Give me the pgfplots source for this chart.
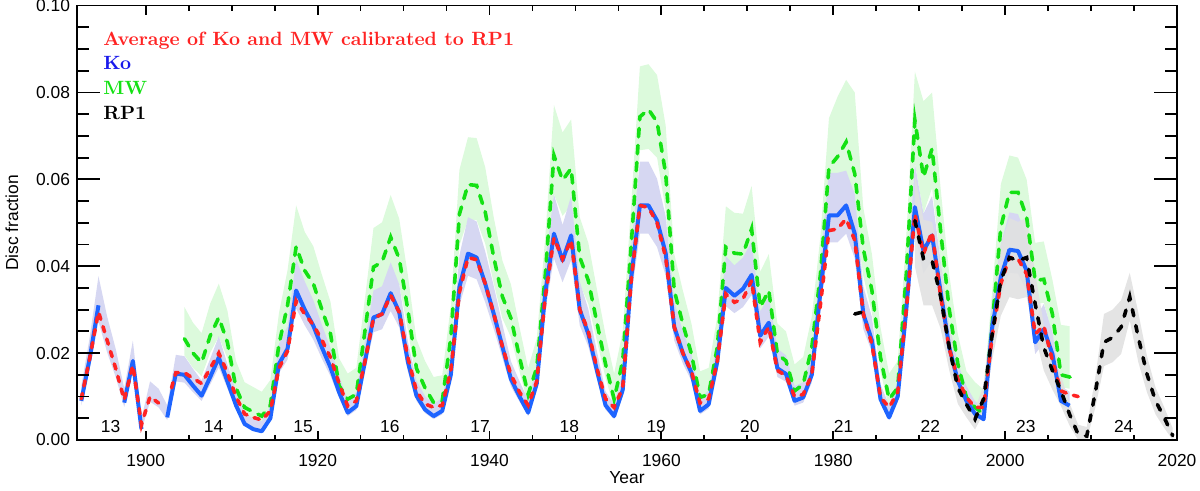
\documentclass[border=0pt]{standalone}
\usepackage{fontspec}
\setsansfont{Liberation Sans}
\usepackage{pgfplots}
\pgfplotsset{compat=1.18}
\usepackage{pgfplotstable}
\usepgfplotslibrary{fillbetween}

\definecolor{kol}{RGB}{30,100,255}
\definecolor{mwl}{RGB}{20,225,20}
\definecolor{avl}{RGB}{255,35,35}
\definecolor{mwb}{RGB}{220,250,220}
\definecolor{kob}{RGB}{214,215,242}
\definecolor{rpb}{RGB}{225,225,225}
\definecolor{txtblue}{RGB}{25,25,235}
\definecolor{txtgreen}{RGB}{20,225,20}

% Ko: year, value, band low, band high
\pgfplotstableread{
yr v lo hi
1892.5 0.0090 0.0079 0.0124
1893.5 0.0190 0.0167 0.0239
1894.5 0.0310 0.0273 0.0377
1895.5 nan 0.0202 0.0285
1896.5 nan 0.0145 0.0210
1897.5 0.0086 0.0076 0.0119
1898.5 0.0182 0.0160 0.0229
1899.5 0.0025 0.0022 0.0049
1900.5 nan 0.0088 0.0135
1901.5 nan 0.0075 0.0118
1902.5 0.0052 0.0046 0.0080
1903.5 0.0153 0.0135 0.0196
1904.5 0.0150 0.0132 0.0193
1905.5 0.0125 0.0110 0.0164
1906.5 0.0102 0.0090 0.0137
1907.5 0.0145 0.0128 0.0187
1908.5 0.0190 0.0167 0.0239
1909.5 0.0135 0.0119 0.0175
1910.5 0.0080 0.0070 0.0112
1911.5 0.0037 0.0033 0.0063
1912.5 0.0025 0.0022 0.0049
1913.5 0.0020 0.0018 0.0043
1914.5 0.0050 0.0044 0.0078
1915.5 0.0175 0.0154 0.0221
1916.5 0.0210 0.0185 0.0262
1917.5 0.0344 0.0303 0.0416
1918.5 0.0300 0.0264 0.0365
1919.5 0.0263 0.0231 0.0322
1920.5 0.0213 0.0187 0.0265
1921.5 0.0167 0.0147 0.0212
1922.5 0.0110 0.0097 0.0147
1923.5 0.0063 0.0055 0.0092
1924.5 0.0078 0.0069 0.0110
1925.5 0.0180 0.0158 0.0227
1926.5 0.0282 0.0248 0.0344
1927.5 0.0290 0.0255 0.0354
1928.5 0.0338 0.0297 0.0409
1929.5 0.0294 0.0259 0.0358
1930.5 0.0180 0.0158 0.0227
1931.5 0.0102 0.0090 0.0137
1932.5 0.0070 0.0062 0.0101
1933.5 0.0055 0.0048 0.0083
1934.5 0.0067 0.0059 0.0097
1935.5 0.0150 0.0132 0.0193
1936.5 0.0352 0.0310 0.0425
1937.5 0.0429 0.0378 0.0513
1938.5 0.0420 0.0370 0.0503
1939.5 0.0360 0.0317 0.0434
1940.5 0.0290 0.0255 0.0354
1941.5 0.0215 0.0189 0.0267
1942.5 0.0140 0.0123 0.0181
1943.5 0.0100 0.0088 0.0135
1944.5 0.0063 0.0055 0.0092
1945.5 0.0130 0.0114 0.0170
1946.5 0.0340 0.0299 0.0411
1947.5 0.0475 0.0418 0.0566
1948.5 0.0413 0.0363 0.0495
1949.5 0.0471 0.0414 0.0562
1950.5 0.0300 0.0264 0.0365
1951.5 0.0244 0.0215 0.0301
1952.5 0.0160 0.0141 0.0204
1953.5 0.0080 0.0070 0.0112
1954.5 0.0055 0.0048 0.0083
1955.5 0.0115 0.0101 0.0152
1956.5 0.0375 0.0330 0.0451
1957.5 0.0540 0.0475 0.0641
1958.5 0.0540 0.0475 0.0641
1959.5 0.0505 0.0444 0.0601
1960.5 0.0430 0.0378 0.0515
1961.5 0.0260 0.0229 0.0319
1962.5 0.0200 0.0176 0.0250
1963.5 0.0155 0.0136 0.0198
1964.5 0.0067 0.0059 0.0097
1965.5 0.0082 0.0072 0.0114
1966.5 0.0180 0.0158 0.0227
1967.5 0.0350 0.0308 0.0423
1968.5 0.0332 0.0292 0.0402
1969.5 0.0348 0.0306 0.0420
1970.5 0.0380 0.0334 0.0457
1971.5 0.0240 0.0211 0.0296
1972.5 0.0270 0.0238 0.0331
1973.5 0.0165 0.0145 0.0210
1974.5 0.0152 0.0134 0.0195
1975.5 0.0090 0.0079 0.0124
1976.5 0.0098 0.0086 0.0133
1977.5 0.0150 0.0132 0.0193
1978.5 0.0340 0.0299 0.0411
1979.5 0.0517 0.0455 0.0615
1980.5 0.0517 0.0455 0.0615
1981.5 0.0540 0.0475 0.0620
1982.5 0.0475 0.0418 0.0566
1983.5 0.0290 0.0255 0.0354
1984.5 0.0229 0.0202 0.0283
1985.5 0.0094 0.0083 0.0128
1986.5 0.0052 0.0046 0.0080
1987.5 0.0100 0.0088 0.0135
1988.5 0.0300 0.0264 0.0365
1989.5 0.0536 0.0472 0.0636
1990.5 0.0436 0.0384 0.0521
1991.5 0.0471 0.0414 0.0562
1992.5 0.0340 0.0299 0.0411
1993.5 0.0213 0.0187 0.0265
1994.5 0.0136 0.0120 0.0176
1995.5 0.0090 0.0079 0.0124
1996.5 0.0060 0.0053 0.0089
1997.5 0.0048 0.0042 0.0075
1998.5 0.0260 0.0229 0.0319
1999.5 0.0375 0.0330 0.0451
2000.5 0.0438 0.0385 0.0524
2001.5 0.0435 0.0383 0.0520
2002.5 0.0390 0.0343 0.0469
2003.5 0.0225 0.0198 0.0279
2004.5 0.0255 0.0224 0.0313
2005.5 0.0198 0.0174 0.0248
2006.5 0.0090 0.0079 0.0124
2007.5 0.0079 0.0070 0.0111
}\kotab

% MW
\pgfplotstableread{
yr v lo hi
1904.5 0.0233 0.0195 0.0306
1905.5 0.0200 0.0166 0.0270
1906.5 0.0178 0.0147 0.0246
1907.5 0.0240 0.0201 0.0314
1908.5 0.0282 0.0238 0.0360
1909.5 0.0225 0.0188 0.0298
1910.5 0.0120 0.0096 0.0182
1911.5 0.0075 0.0056 0.0133
1912.5 0.0065 0.0047 0.0122
1913.5 0.0055 0.0038 0.0111
1914.5 0.0080 0.0060 0.0138
1915.5 0.0220 0.0184 0.0292
1916.5 0.0310 0.0263 0.0391
1917.5 0.0445 0.0382 0.0540
1918.5 0.0390 0.0333 0.0479
1919.5 0.0360 0.0307 0.0446
1920.5 0.0300 0.0254 0.0380
1921.5 0.0244 0.0205 0.0318
1922.5 0.0125 0.0100 0.0188
1923.5 0.0094 0.0073 0.0153
1924.5 0.0105 0.0082 0.0166
1925.5 0.0250 0.0210 0.0325
1926.5 0.0398 0.0340 0.0488
1927.5 0.0410 0.0351 0.0501
1928.5 0.0467 0.0401 0.0564
1929.5 0.0417 0.0357 0.0509
1930.5 0.0300 0.0254 0.0380
1931.5 0.0165 0.0135 0.0232
1932.5 0.0120 0.0096 0.0182
1933.5 0.0086 0.0066 0.0145
1934.5 0.0090 0.0069 0.0149
1935.5 0.0236 0.0198 0.0310
1936.5 0.0520 0.0448 0.0622
1937.5 0.0588 0.0507 0.0697
1938.5 0.0586 0.0506 0.0695
1939.5 0.0525 0.0452 0.0628
1940.5 0.0420 0.0360 0.0512
1941.5 0.0330 0.0280 0.0413
1942.5 0.0280 0.0236 0.0358
1943.5 0.0190 0.0157 0.0259
1944.5 0.0105 0.0082 0.0166
1945.5 0.0167 0.0137 0.0234
1946.5 0.0382 0.0326 0.0470
1947.5 0.0655 0.0566 0.0771
1948.5 0.0598 0.0516 0.0708
1949.5 0.0625 0.0540 0.0738
1950.5 0.0421 0.0360 0.0513
1951.5 0.0367 0.0313 0.0454
1952.5 0.0270 0.0228 0.0347
1953.5 0.0175 0.0144 0.0243
1954.5 0.0094 0.0073 0.0153
1955.5 0.0182 0.0150 0.0250
1956.5 0.0452 0.0388 0.0547
1957.5 0.0744 0.0667 0.0860
1958.5 0.0761 0.0670 0.0865
1959.5 0.0732 0.0650 0.0840
1960.5 0.0613 0.0529 0.0724
1961.5 0.0344 0.0293 0.0428
1962.5 0.0267 0.0225 0.0344
1963.5 0.0198 0.0164 0.0268
1964.5 0.0098 0.0076 0.0158
1965.5 0.0105 0.0082 0.0166
1966.5 0.0213 0.0177 0.0284
1967.5 0.0444 0.0381 0.0538
1968.5 0.0430 0.0368 0.0523
1969.5 0.0428 0.0367 0.0521
1970.5 0.0486 0.0418 0.0585
1971.5 0.0306 0.0259 0.0387
1972.5 0.0344 0.0293 0.0428
1973.5 0.0198 0.0164 0.0268
1974.5 0.0182 0.0150 0.0250
1975.5 0.0113 0.0089 0.0174
1976.5 0.0128 0.0103 0.0191
1977.5 0.0213 0.0177 0.0284
1978.5 0.0380 0.0324 0.0468
1979.5 0.0628 0.0543 0.0741
1980.5 0.0652 0.0564 0.0790
1981.5 0.0686 0.0594 0.0829
1982.5 0.0613 0.0529 0.0800
1983.5 0.0440 0.0377 0.0534
1984.5 0.0344 0.0293 0.0428
1985.5 0.0190 0.0157 0.0259
1986.5 0.0094 0.0073 0.0153
1987.5 0.0120 0.0096 0.0182
1988.5 0.0382 0.0326 0.0470
1989.5 0.0736 0.0638 0.0848
1990.5 0.0605 0.0522 0.0780
1991.5 0.0671 0.0580 0.0800
1992.5 0.0480 0.0412 0.0578
1993.5 0.0300 0.0254 0.0380
1994.5 0.0175 0.0144 0.0243
1995.5 0.0098 0.0076 0.0158
1996.5 0.0075 0.0056 0.0133
1997.5 0.0060 0.0043 0.0116
1998.5 0.0267 0.0225 0.0344
1999.5 0.0490 0.0421 0.0589
2000.5 0.0570 0.0492 0.0655
2001.5 0.0570 0.0492 0.0650
2002.5 0.0513 0.0441 0.0600
2003.5 0.0367 0.0313 0.0454
2004.5 0.0370 0.0316 0.0457
2005.5 0.0290 0.0245 0.0369
2006.5 0.0150 0.0122 0.0265
2007.5 0.0145 0.0118 0.0262
2008.5 0.0140 nan nan
}\mwtab

% Average of Ko and MW calibrated to RP1
\pgfplotstableread{
yr v
1892.5 0.0095
1893.5 0.0190
1894.5 0.0295
1895.5 0.0230
1896.5 0.0165
1897.5 0.0092
1898.5 0.0172
1899.5 0.0035
1900.5 0.0100
1901.5 0.0085
1902.5 nan
1903.0 0.0120
1903.5 0.0155
1904.5 0.0155
1905.5 0.0142
1906.5 0.0130
1907.5 0.0165
1908.5 0.0200
1909.5 0.0155
1910.5 0.0100
1911.5 0.0060
1912.5 0.0052
1913.5 0.0046
1914.5 0.0067
1915.5 0.0165
1916.5 0.0205
1917.5 0.0320
1918.5 0.0290
1919.5 0.0265
1920.5 0.0230
1921.5 0.0190
1922.5 0.0130
1923.5 0.0078
1924.5 0.0090
1925.5 0.0180
1926.5 0.0280
1927.5 0.0290
1928.5 0.0333
1929.5 0.0294
1930.5 0.0190
1931.5 0.0113
1932.5 0.0083
1933.5 0.0075
1934.5 0.0080
1935.5 0.0160
1936.5 0.0340
1937.5 0.0420
1938.5 0.0415
1939.5 0.0360
1940.5 0.0290
1941.5 0.0215
1942.5 0.0150
1943.5 0.0110
1944.5 0.0080
1945.5 0.0135
1946.5 0.0330
1947.5 0.0465
1948.5 0.0417
1949.5 0.0460
1950.5 0.0300
1951.5 0.0250
1952.5 0.0165
1953.5 0.0095
1954.5 0.0075
1955.5 0.0120
1956.5 0.0370
1957.5 0.0540
1958.5 0.0535
1959.5 0.0500
1960.5 0.0420
1961.5 0.0260
1962.5 0.0200
1963.5 0.0158
1964.5 0.0085
1965.5 0.0095
1966.5 0.0180
1967.5 0.0336
1968.5 0.0317
1969.5 0.0325
1970.5 0.0367
1971.5 0.0225
1972.5 0.0260
1973.5 0.0160
1974.5 0.0148
1975.5 0.0100
1976.5 0.0105
1977.5 0.0150
1978.5 0.0310
1979.5 0.0482
1980.5 0.0486
1981.5 0.0509
1982.5 0.0460
1983.5 0.0290
1984.5 0.0220
1985.5 0.0098
1986.5 0.0075
1987.5 0.0110
1988.5 0.0300
1989.5 0.0520
1990.5 0.0429
1991.5 0.0479
1992.5 0.0330
1993.5 0.0210
1994.5 0.0140
1995.5 0.0098
1996.5 0.0075
1997.5 0.0075
1998.5 0.0240
1999.5 0.0360
2000.5 0.0420
2001.5 0.0417
2002.5 0.0382
2003.5 0.0244
2004.5 0.0263
2005.5 0.0183
2006.5 0.0113
2007.5 0.0105
2008.5 0.0100
}\avtab

% RP1 line
\pgfplotstableread{
yr v
1982.5 0.0290
1983.5 0.0295
1984.5 nan
1989.5 0.0505
1990.5 0.0417
1991.5 0.0413
1992.5 0.0330
1993.5 0.0213
1994.5 0.0120
1995.5 0.0082
1996.5 0.0048
1997.5 0.0095
1998.5 0.0244
1999.5 0.0367
2000.5 0.0420
2001.5 0.0413
2002.5 0.0420
2003.5 0.0313
2004.5 0.0213
2005.5 0.0160
2006.5 0.0113
2007.5 0.0059
2008.5 0.0013
2009.5 0.0009
2010.5 0.0110
2011.5 0.0225
2012.5 0.0236
2013.5 0.0260
2014.5 0.0329
2015.5 0.0236
2016.5 0.0152
2017.5 0.0090
2018.5 0.0052
2019.5 0.0010
}\rptab

% RP1 band
\pgfplotstableread{
yr lo hi
1989.5 0.0399 0.0611
1990.5 0.0310 0.0507
1991.5 0.0310 0.0502
1992.5 0.0256 0.0404
1993.5 0.0160 0.0266
1994.5 0.0083 0.0157
1995.5 0.0052 0.0112
1996.5 0.0024 0.0072
1997.5 0.0063 0.0127
1998.5 0.0185 0.0303
1999.5 0.0286 0.0448
2000.5 0.0329 0.0511
2001.5 0.0324 0.0502
2002.5 0.0329 0.0511
2003.5 0.0242 0.0384
2004.5 0.0160 0.0266
2005.5 0.0116 0.0204
2006.5 0.0078 0.0148
2007.5 0.0033 0.0085
2008.5 0.0000 0.0035
2009.5 0.0000 0.0030
2010.5 0.0075 0.0145
2011.5 0.0170 0.0290
2012.5 0.0179 0.0300
2013.5 0.0198 0.0322
2014.5 0.0275 0.0385
2015.5 0.0179 0.0293
2016.5 0.0110 0.0194
2017.5 0.0059 0.0121
2018.5 0.0028 0.0076
2019.5 0.0000 0.0027
}\rpband

\begin{document}
\begin{tikzpicture}
\pgfplotsset{
  common/.style={
    scale only axis, width=550pt, height=217.2pt,
    xmin=1892, xmax=2020, ymin=0, ymax=0.1,
    axis line style={line width=0.9pt},
    every tick/.style={black, line width=0.9pt},
    tick align=inside,
    every tick label/.append style={font=\sffamily\fontsize{8.7}{10}\selectfont},
    /pgf/number format/assume math mode=true,
  }
}
% axis with data and x ticks
\begin{axis}[common,
  xtick={1900,1920,1940,1960,1980,2000,2020},
  minor x tick num=3,
  xtick pos=both, xticklabel pos=lower,
  xticklabel style={/pgf/number format/1000 sep={}, yshift=-3.5pt},
  major tick length=4.5pt, minor tick length=2.5pt,
  ytick=\empty,
  unbounded coords=jump,
  xlabel={Year},
  every axis x label/.style={at={(axis description cs:0.5,-0.0875)}, anchor=center, font=\sffamily\fontsize{8.7}{10}\selectfont},
  ylabel={Disc fraction},
  every axis y label/.style={at={(axis description cs:-0.0591,0.5)}, rotate=90, anchor=center, font=\sffamily\fontsize{8.7}{10}\selectfont},
]
% bands
\addplot[name path=mwhi, draw=none, forget plot] table[x=yr,y=hi]{\mwtab};
\addplot[name path=mwlo, draw=none, forget plot] table[x=yr,y=lo]{\mwtab};
\addplot[mwb, forget plot] fill between[of=mwhi and mwlo];
\addplot[name path=kohi, draw=none, forget plot] table[x=yr,y=hi]{\kotab};
\addplot[name path=kolo, draw=none, forget plot] table[x=yr,y=lo]{\kotab};
\addplot[kob, forget plot] fill between[of=kohi and kolo];
\addplot[name path=rphi, draw=none, forget plot] table[x=yr,y=hi]{\rpband};
\addplot[name path=rplo, draw=none, forget plot] table[x=yr,y=lo]{\rpband};
\addplot[rpb, fill opacity=0.9, forget plot] fill between[of=rphi and rplo];
% lines
\addplot[mwl, line width=1.8pt, line cap=round, dash pattern=on 4.2pt off 4.3pt] table[x=yr,y=v]{\mwtab};
\addplot[kol, line width=2pt, line join=round] table[x=yr,y=v]{\kotab};
\addplot[avl, line width=1.8pt, line cap=round, dash pattern=on 2.7pt off 3.8pt] table[x=yr,y=v]{\avtab};
\addplot[black, line width=1.8pt, line cap=round, dash pattern=on 3.2pt off 5pt] table[x=yr,y=v]{\rptab};
% legend text
\begin{scope}[every node/.style={anchor=base west, inner sep=0pt, font=\bfseries\fontsize{9.6}{11}\selectfont}]
\node[text=avl] at (axis cs:1895.03,0.0909) {Average of Ko and MW calibrated to RP1};
\node[text=txtblue] at (axis cs:1895.03,0.0854) {Ko};
\node[text=txtgreen] at (axis cs:1895.03,0.0796) {MW};
\node[text=black] at (axis cs:1895.03,0.0738) {RP1};
\end{scope}
% cycle numbers
\begin{scope}[every node/.style={anchor=base, inner sep=0pt, font=\sffamily\fontsize{8.7}{10}\selectfont}]
\node at (axis cs:1895.9,0.0017) {13};
\node at (axis cs:1907.9,0.0017) {14};
\node at (axis cs:1918.3,0.0017) {15};
\node at (axis cs:1928.4,0.0017) {16};
\node at (axis cs:1938.9,0.0017) {17};
\node at (axis cs:1949.3,0.0017) {18};
\node at (axis cs:1959.4,0.0017) {19};
\node at (axis cs:1970.3,0.0017) {20};
\node at (axis cs:1981.2,0.0017) {21};
\node at (axis cs:1991.3,0.0017) {22};
\node at (axis cs:2002.4,0.0017) {23};
\node at (axis cs:2013.8,0.0017) {24};
\end{scope}
\end{axis}
% axis with y ticks
\begin{axis}[common,
  xtick=\empty,
  ytick={0,0.02,0.04,0.06,0.08,0.1},
  minor y tick num=3,
  ytick pos=both, yticklabel pos=left,
  major tick length=11.5pt, minor tick length=6pt,
  yticklabel style={/pgf/number format/.cd, fixed, fixed zerofill, precision=2},
]
\end{axis}
\pgfresetboundingbox
\path[use as bounding box] (-38.5pt,-25.5pt) rectangle (561.5pt,220pt);
\end{tikzpicture}
\end{document}
